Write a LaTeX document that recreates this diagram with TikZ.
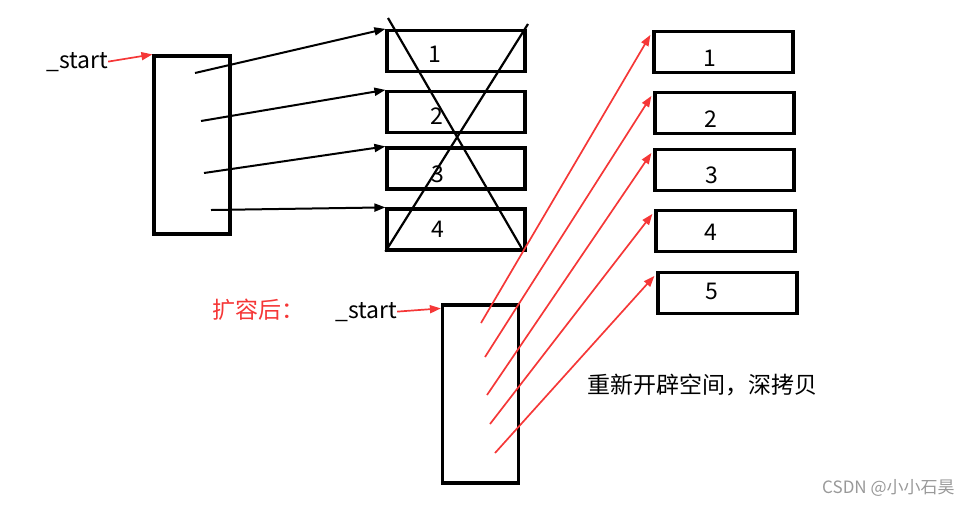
\documentclass[tikz,border=0pt]{standalone}
\usepackage{fontspec}
\setmainfont{Noto Sans CJK SC}
\usepackage{xcolor}
\usetikzlibrary{arrows.meta,calc}
\definecolor{mkred}{RGB}{245,55,55}

\begin{document}
\begin{tikzpicture}[x=1pt, y=-1pt, >={Triangle[length=11pt, width=8pt]},
  box/.style={draw, line width=3.2pt, inner sep=0pt, minimum width=138pt, minimum height=41pt},
  blk/.style={draw, line width=3.2pt, inner sep=0pt, minimum width=76pt, minimum height=178pt},
  txt/.style={inner sep=0pt, font=\fontsize{23}{27}\selectfont},
  ptr/.style={->, line width=2pt},
  cpy/.style={->, line width=1.7pt, mkred}]
  \useasboundingbox (0,0) rectangle (973,507);

  % old array
  \node[blk] (blk1) at (192,145) {};
  \node[txt, anchor=base west] (s1) at (46,68) {\_start};
  \draw[cpy] (s1.east) -- (blk1.north west);
  \foreach \i/\y/\tx/\ty in {1/51/435/62, 2/112/437/124, 3/168.5/438/182, 4/229.5/438/237} {
    \node[box] (o\i) at (456,\y) {};
    \node[txt, anchor=base] (ot\i) at (\tx,\ty) {\i};
  }
  \foreach \i/\x/\y in {1/195/73, 2/201/121, 3/204/173, 4/211/210} {
    \coordinate (p\i) at (\x,\y);
    \draw[ptr] (p\i) -- (o\i.north west);
  }
  \draw[line width=2.2pt] (388,18) -- ($(o4.south east)+(-3,0)$);
  \draw[line width=2.2pt] (528,24) -- (o4.south west);

  % after expansion
  \node[txt, anchor=west, mkred] (kr) at (212,310) {扩容后：};
  \node[blk] (blk2) at (480.5,394) {};
  \node[txt, anchor=base west] (s2) at (335,318) {\_start};
  \draw[cpy] (s2.east) -- ($(blk2.north west)+(0,5)$);
  \foreach \i/\x/\y/\tx/\ty in {1/723.5/52/710/66, 2/724.5/113/711/127, 3/724.5/170/712/183,
                                4/725.5/231/711/240, 5/727.5/293/712/299} {
    \node[box, minimum width=139pt] (n\i) at (\x,\y) {};
    \node[txt, anchor=base] (nt\i) at (\tx,\ty) {\i};
  }
  \foreach \i/\x/\y in {1/481/323, 2/485/357, 3/487/395, 4/490/424, 5/495/453} {
    \coordinate (q\i) at (\x,\y);
    \draw[cpy] (q\i) -- ($(n\i.north west)+(-2,5)$);
  }
  \node[txt, anchor=west] (note) at (587,385) {重新开辟空间，深拷贝};
  \node[txt, anchor=west, black!40, font=\fontsize{17}{20}\selectfont] (wm) at (822,488) {CSDN @小小石昊};
\end{tikzpicture}
\end{document}
